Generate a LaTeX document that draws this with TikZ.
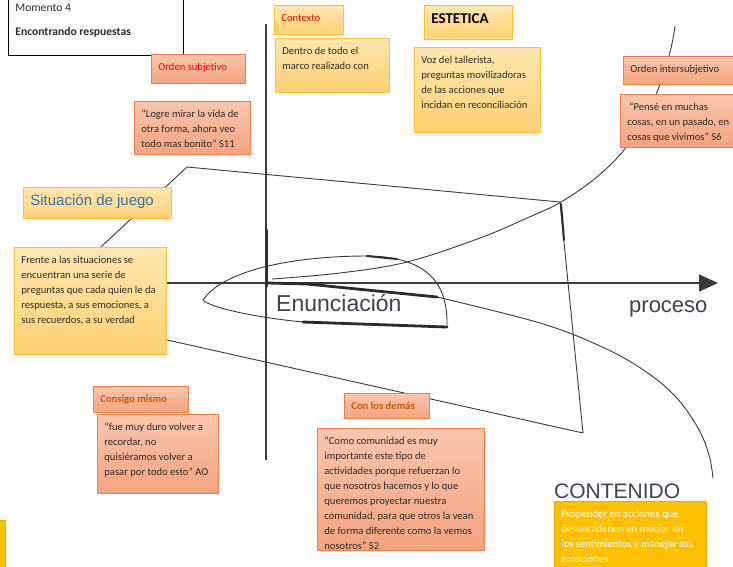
\documentclass[tikz,border=0pt]{standalone}
\usepackage{fontspec}
\setmainfont{Carlito}
\newfontfamily\arialfont{Liberation Sans}
\usetikzlibrary{arrows.meta}
\definecolor{paper}{HTML}{FFFFFF}
\definecolor{ink}{HTML}{2B2B2B}
\definecolor{pen}{HTML}{3A3A3A}
\definecolor{noteTop}{HTML}{FFE7B0}
\definecolor{noteBot}{HTML}{FFD172}
\definecolor{noteEdge}{HTML}{FFC13B}
\definecolor{quoteTop}{HTML}{FAC6AE}
\definecolor{quoteBot}{HTML}{F4A37F}
\definecolor{quoteEdge}{HTML}{EE8245}
\definecolor{gold}{HTML}{FFC000}
\definecolor{goldEdge}{HTML}{E8AE00}
\definecolor{alert}{HTML}{FF0000}
\definecolor{rust}{HTML}{C55A11}
\definecolor{titleBlue}{HTML}{2E75B6}
\definecolor{slate}{HTML}{3E4350}
% box of fixed size, lines set as given, text from the top
\newcommand{\BoxText}[3]{\parbox[t][#2pt][t]{#1pt}{\begin{tabular}[t]{@{}l@{}}#3\end{tabular}}}

\begin{document}
\begin{tikzpicture}[
    x=1pt, y=-1pt, font=\fontsize{10.6}{15}\selectfont, text=ink,
    pen/.style={draw=pen, line width=0.9pt, line join=round},
    marker/.style={draw=ink, line width=2.8pt, line cap=round},
    axis/.style={draw=pen, line width=1.3pt},
    frame/.style={anchor=north west, draw=black, fill=paper, line width=0.9pt, inner xsep=7pt, inner ysep=6pt},
    note/.style={anchor=north west, draw=noteEdge, line width=0.8pt, top color=noteTop, bottom color=noteBot, inner xsep=7pt, inner ysep=6pt},
    quote/.style={anchor=north west, draw=quoteEdge, line width=0.8pt, top color=quoteTop, bottom color=quoteBot, inner xsep=7pt, inner ysep=6pt},
    goldbox/.style={anchor=north west, draw=goldEdge, line width=0.8pt, fill=gold, text=white, inner xsep=7pt, inner ysep=6pt},
    heading/.style={font=\fontsize{10.6}{15}\selectfont\bfseries, text=rust},
    sketch/.style={anchor=west, inner sep=0pt, text=slate},
  ]
\useasboundingbox (0,0) rectangle (733,566);
\clip (0,0) rectangle (733,566);
\fill[paper] (0,0) rectangle (733,566);

% the hand-drawn scene behind the boxes
\draw[pen] (33,310) -- (187,167) -- (560,202) -- (583,433) -- cycle;
\draw[marker, line width=2pt] (561,204) -- (564,240);
\draw[axis] (266,24) -- (266,460);
\draw[axis, -{Triangle[length=19pt, width=17pt]}] (40,283) -- (718,283);
\draw[marker, line width=2pt] (267,230) -- (267,286);

% the parabola opening to the right
\draw[pen] plot[smooth, tension=0.6] coordinates {(675,26) (669,56) (652,104) (627,146) (598,176) (561,202) (527,218) (480,238) (407,262) (340,273) (272,279)};
\draw[pen] plot[smooth, tension=0.6] coordinates {(437,297) (540,323) (600,346) (642,369) (675,396) (698,428) (709,455) (713,478)};
\draw[marker] (268,283) -- (307,284) -- (437,297);

% the loop round the enunciation
\draw[pen] (447,327) .. controls (448,285) and (430,257) .. (367,256)
  .. controls (300,256) and (225,268) .. (203,300)
  .. controls (210,308) and (260,318) .. (303,322);
\draw[marker, line width=2pt] (367,256) -- (397,259);
\draw[marker] (303,322) -- (447,327);

\node[sketch, font=\arialfont\fontsize{23}{25}\selectfont] (enunciacion) at (276,303) {Enunciación};
\node[sketch, font=\arialfont\fontsize{22}{24}\selectfont] (proceso) at (629,309) {proceso};
\node[sketch, font=\arialfont\fontsize{21}{23}\selectfont] (contenido) at (554,491) {CONTENIDO};

% boxes
\node[frame, font=\fontsize{11.6}{15}\selectfont] (momento) at (8,-5) {\BoxText{161}{48}{Momento 4\\[9pt]\textbf{Encontrando respuestas}}};
\node[quote, text=alert] (orden-sub) at (151,54) {\BoxText{80}{17}{Orden subjetivo}};
\node[quote] (logre) at (134,101) {\BoxText{102}{41}{“Logre mirar la vida de\\otra forma, ahora veo\\todo mas bonito” S11}};
\node[note, text=alert] (contexto) at (274,5) {\BoxText{55}{17}{Contexto}};
\node[note] (marco) at (275,38) {\BoxText{100}{42}{Dentro de todo el\\marco realizado con}};
\node[note, font=\fontsize{15}{17}\selectfont\bfseries, text=black] (estetica) at (424,5) {\BoxText{74}{22}{ESTETICA}};
\node[note] (voz) at (414,47) {\BoxText{112}{73}{Voz del tallerista,\\preguntas movilizadoras\\de las acciones que\\incidan en reconciliación}};
\node[quote] (orden-inter) at (623,56) {\BoxText{108}{16}{Orden intersubjetivo}};
\node[quote] (pense) at (620,94) {\BoxText{111}{41}{\,“Pensé en muchas\\cosas, en un pasado, en\\cosas que vivimos” S6}};
\node[note, font=\arialfont\fontsize{15}{17}\selectfont, text=titleBlue] (juego) at (23,187) {\BoxText{134}{19}{Situación de juego}};
\node[note] (frente) at (14,247) {\BoxText{138}{95}{Frente a las situaciones se\\encuentran una serie de\\preguntas que cada quien le da\\respuesta, a sus emociones, a\\sus recuerdos, a su verdad}};
\node[quote, heading] (consigo) at (93,386) {\BoxText{81}{14}{Consigo mismo}};
\node[quote] (duro) at (97,414) {\BoxText{107}{67}{“fue muy duro volver a\\recordar, no\\quisiéramos volver a\\pasar por todo esto” AO}};
\node[quote, heading] (demas) at (344,393) {\BoxText{71}{13}{Con los demás}};
\node[quote] (comunidad) at (317,428) {\BoxText{153}{110}{“Como comunidad es muy\\importante este tipo de\\actividades porque refuerzan lo\\que nosotros hacemos y lo que\\queremos proyectar nuestra\\comunidad, para que otros la vean\\de forma diferente como la vemos\\nosotros” S2}};
\node[goldbox] (propender) at (554,501) {\BoxText{138}{62}{Propender en acciones que\\desencadenen en mediar en\\los sentimientos y manejar sus\\emociones}};
\node[goldbox, minimum width=14pt, minimum height=50pt, inner sep=0pt] (cut) at (-9,520) {};

\end{tikzpicture}
\end{document}
